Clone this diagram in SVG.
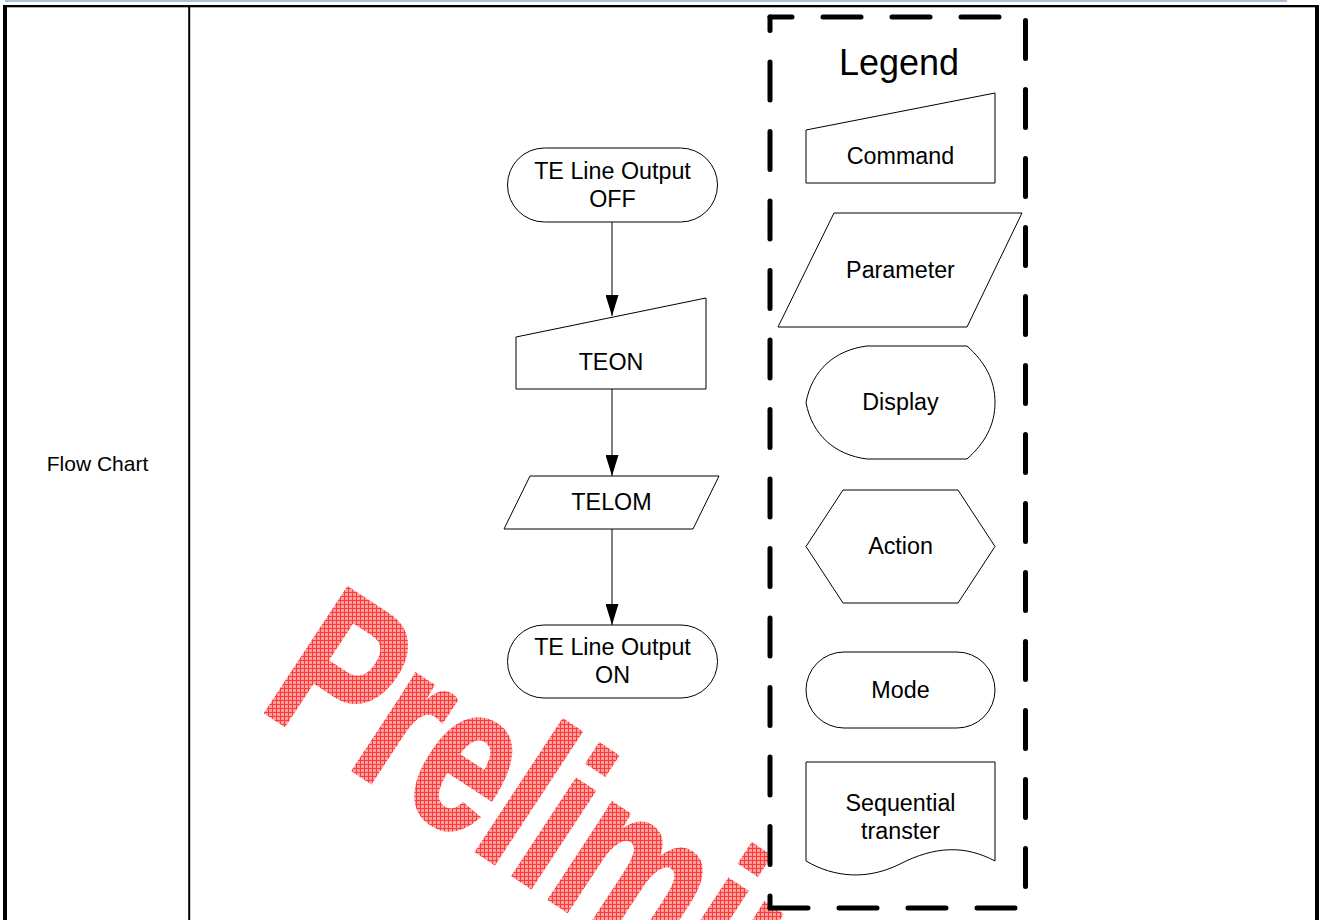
<svg xmlns="http://www.w3.org/2000/svg" width="1321" height="920" viewBox="0 0 1321 920">
<style>
.t{font-family:"Liberation Sans",Arial,sans-serif;font-size:23.3px;fill:#000;text-anchor:middle}
.s{fill:#fff;stroke:#000;stroke-width:1}
.c{fill:none;stroke:#000;stroke-width:1}
.d{fill:none;stroke:#000;stroke-width:5;stroke-linecap:round}
</style>
<defs>
<marker id="ah" viewBox="0 0 21 13" markerWidth="21" markerHeight="13" refX="21" refY="6.5" orient="auto" markerUnits="userSpaceOnUse">
<path d="M0,0 L21,6.5 L0,13 Z" fill="#000"/>
</marker>
<pattern id="grid" width="4" height="4" patternUnits="userSpaceOnUse">
<rect width="4" height="4" fill="#ffa0a0"/>
<path d="M0,0.5H4M0.5,0V4" stroke="#ff3838" stroke-width="1"/>
</pattern>
<mask id="wm" maskUnits="userSpaceOnUse" x="0" y="0" width="1321" height="920">
<text transform="translate(263.3,713.3) rotate(33.3) scale(0.724,1)" x="-12" y="-2" font-family="Liberation Sans, Arial, sans-serif" font-weight="bold" font-size="216" fill="#fff" stroke="#fff" stroke-width="4">Preliminary</text>
</mask>
</defs>
<g id="frame">
<rect x="5" y="0" width="1282" height="2" fill="#aac0d8"/>
<rect x="3" y="5" width="1316" height="2.3" fill="#000"/>
<rect x="3" y="5" width="4" height="915" fill="#000"/>
<rect x="1315" y="5" width="4" height="915" fill="#000"/>
<rect x="188.2" y="5" width="2" height="915" fill="#000"/>
</g>
<g id="row-label">
<text class="t" x="97.5" y="471" style="font-size:21px">Flow Chart</text>
</g>
<g id="watermark">
<rect x="0" y="0" width="1321" height="920" fill="url(#grid)" mask="url(#wm)"/>
</g>
<g id="connectors">
<path class="c" d="M612,222V316" marker-end="url(#ah)"/>
<path class="c" d="M612,389V476" marker-end="url(#ah)"/>
<path class="c" d="M612,529V625" marker-end="url(#ah)"/>
</g>
<g id="node-te-off">
<rect class="s" x="507.5" y="148" width="210" height="74" rx="37"/>
<text class="t" x="612.5" y="178.5">TE Line Output</text>
<text class="t" x="612.5" y="206.5">OFF</text>
</g>
<g id="node-teon">
<path class="s" d="M516,337 L706,298 L706,389 L516,389 Z"/>
<text class="t" x="611" y="370">TEON</text>
</g>
<g id="node-telom">
<path class="s" d="M530,476 L719,476 L693,529 L504,529 Z"/>
<text class="t" x="611.5" y="510">TELOM</text>
</g>
<g id="node-te-on">
<rect class="s" x="507.5" y="625" width="210" height="73" rx="36.5"/>
<text class="t" x="612.5" y="654.5">TE Line Output</text>
<text class="t" x="612.5" y="682.5">ON</text>
</g>
<g id="legend">
<path class="d" d="M770,17V908" stroke-dasharray="38 31.5" stroke-dashoffset="24.5"/>
<path class="d" d="M770,908H1025.5" stroke-dasharray="38 31"/>
<path class="d" d="M1025.5,17V908" stroke-dasharray="38 31" stroke-dashoffset="65.5"/>
<path class="d" d="M770,17H1025.5" stroke-dasharray="38 31" stroke-dashoffset="16"/>
<text class="t" x="899" y="75" style="font-size:36px">Legend</text>
</g>
<g id="legend-command">
<path class="s" d="M806,130 L995,93 L995,183 L806,183 Z"/>
<text class="t" x="900.5" y="164">Command</text>
</g>
<g id="legend-parameter">
<path class="s" d="M834,213 L1022,213 L967,327 L778,327 Z"/>
<text class="t" x="900.5" y="278">Parameter</text>
</g>
<g id="legend-display">
<path class="s" d="M867,346 L967,346 C985,362 995,380 995,402.5 C995,425 985,443 967,459 L867,459 C835,455 812,435 806,402.5 C812,370 835,350 867,346 Z"/>
<text class="t" x="900.5" y="410">Display</text>
</g>
<g id="legend-action">
<path class="s" d="M806,546.5 L843,490 L958,490 L995,546.5 L958,603 L843,603 Z"/>
<text class="t" x="900.5" y="554">Action</text>
</g>
<g id="legend-mode">
<rect class="s" x="806" y="652" width="189" height="76" rx="38"/>
<text class="t" x="900.5" y="697.5">Mode</text>
</g>
<g id="legend-sequential">
<path class="s" d="M806,762 L995,762 L995,861 C965,845 935,846 900,864 C868,880 835,878 806,861 Z"/>
<text class="t" x="900.5" y="811">Sequential</text>
<text class="t" x="900.5" y="839">transter</text>
</g>
</svg>
